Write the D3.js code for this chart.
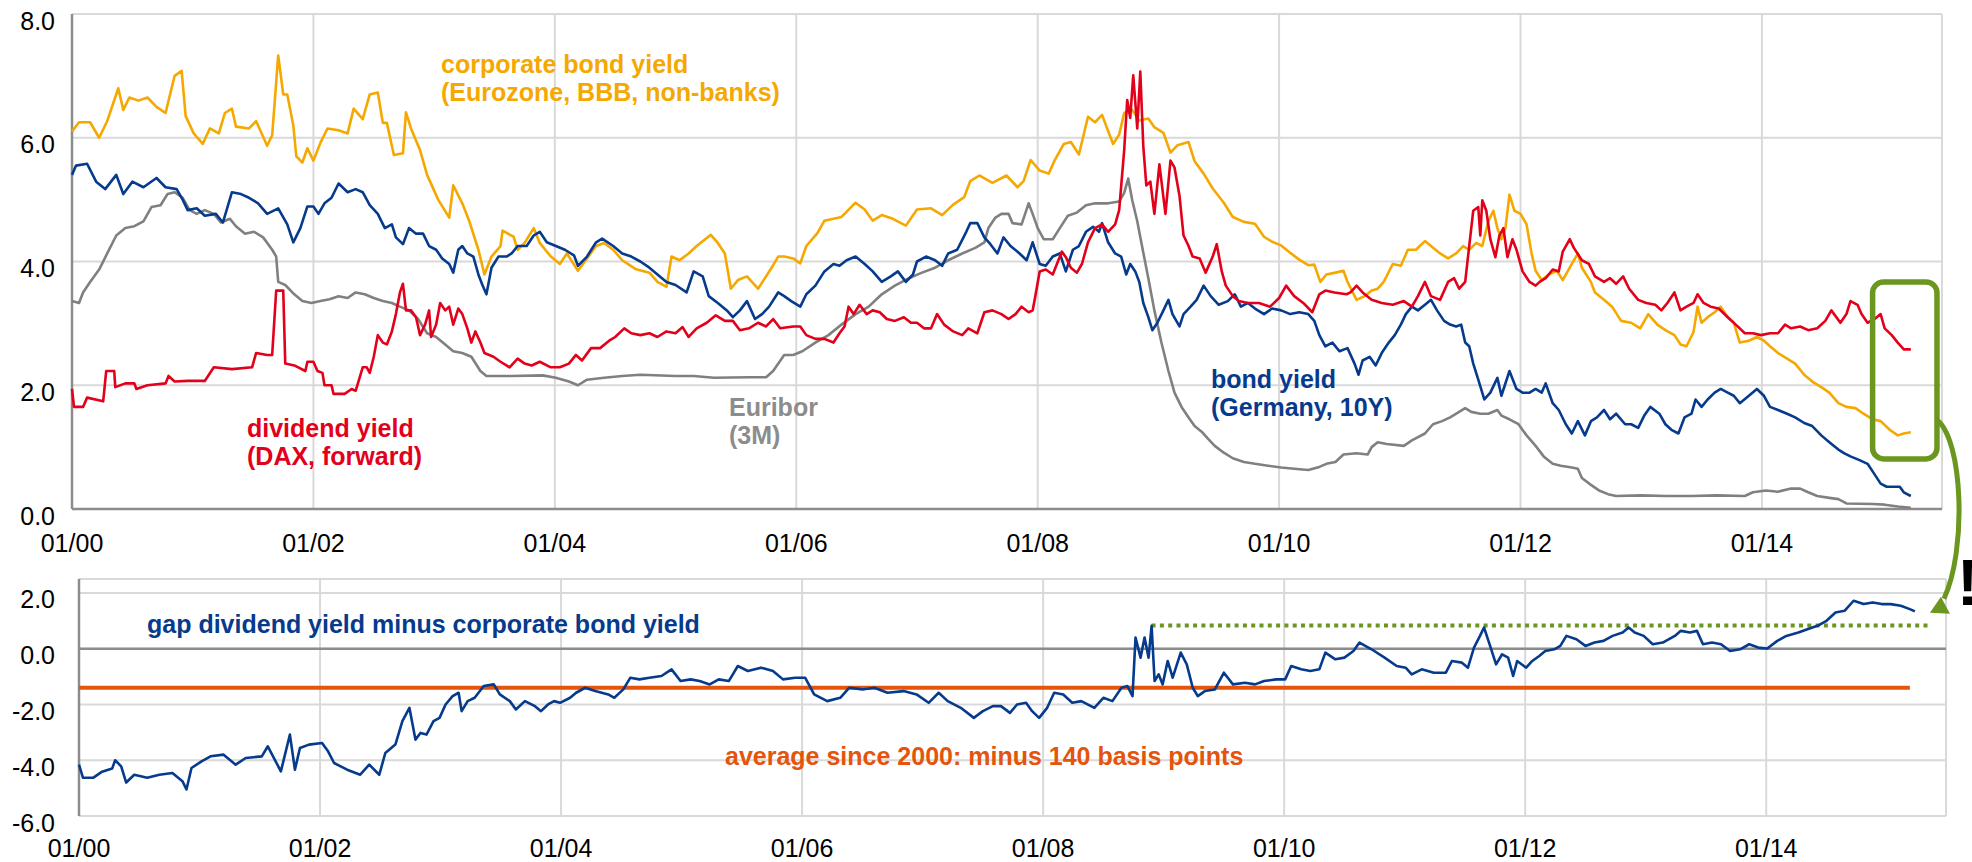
<!DOCTYPE html>
<html><head><meta charset="utf-8">
<script src="https://cdn.jsdelivr.net/npm/d3@7"></script>
<style>
html,body{margin:0;padding:0;background:#fff;}
svg{display:block;font-family:"Liberation Sans",Arial,sans-serif;}
</style></head><body>
<svg id="chart" width="1972" height="862"></svg>
<script>
// ---------- data (month offset since 01/2000, value in %) ----------
const tickMonths = [0,24,48,72,96,120,144,168];
const tickLabels = ["01/00","01/02","01/04","01/06","01/08","01/10","01/12","01/14"];
const topYTicks = [0,2,4,6,8];
const topYLabels = ["0.0","2.0","4.0","6.0","8.0"];
const lowYTicks = [-6,-4,-2,0,2];
const lowYLabels = ["-6.0","-4.0","-2.0","0.0","2.0"];

const corpYield = [[0,6.10],[0.7,6.25],[1.8,6.25],[2.7,6.00],[3.5,6.27],[4.6,6.80],[5.1,6.45],[5.7,6.65],[6.6,6.60],[7.5,6.65],[8.4,6.50],[9.3,6.40],[10.2,7.00],[10.9,7.08],[11.3,6.35],[12.1,6.07],[13.0,5.90],[13.7,6.15],[14.6,6.07],[15.2,6.40],[15.9,6.47],[16.3,6.18],[17.6,6.15],[18.3,6.27],[19.4,5.87],[19.9,6.04],[20.3,6.90],[20.5,7.33],[21.0,6.70],[21.4,6.70],[22.0,6.20],[22.3,5.70],[22.9,5.60],[23.4,5.83],[24.0,5.63],[24.7,5.92],[25.4,6.15],[26.5,6.12],[27.4,6.07],[28.0,6.47],[28.9,6.30],[29.6,6.70],[30.4,6.73],[30.9,6.24],[31.3,6.24],[32.0,5.72],[32.9,5.75],[33.2,6.41],[33.7,6.15],[34.6,5.80],[35.3,5.40],[36.4,5.00],[37.5,4.71],[37.9,5.23],[38.8,4.94],[39.5,4.65],[40.4,4.19],[41.0,3.79],[41.7,4.08],[42.6,4.25],[42.8,4.50],[43.9,4.40],[44.3,4.19],[45.0,4.30],[45.9,4.54],[46.5,4.30],[47.6,4.08],[48.5,3.96],[49.2,4.13],[50.3,3.85],[51.2,4.05],[52.1,4.25],[52.9,4.30],[53.8,4.19],[54.7,4.02],[56.0,3.88],[57.4,3.82],[58.2,3.67],[59.1,3.59],[59.6,4.08],[60.4,4.02],[61.3,4.13],[62.1,4.25],[63.5,4.43],[64.2,4.30],[64.9,4.13],[65.5,3.56],[66.2,3.70],[67.1,3.76],[68.2,3.56],[69.0,3.76],[69.7,3.94],[70.2,4.08],[70.8,4.08],[71.7,4.05],[72.4,3.97],[73.0,4.25],[74.1,4.46],[74.8,4.66],[75.7,4.69],[76.5,4.72],[77.7,4.92],[77.9,4.95],[78.8,4.84],[79.6,4.66],[80.5,4.75],[81.6,4.69],[82.9,4.58],[84.0,4.84],[85.4,4.86],[86.5,4.75],[87.6,4.92],[88.7,5.04],[89.3,5.30],[90.2,5.39],[91.5,5.27],[92.9,5.39],[94.0,5.20],[94.6,5.30],[95.3,5.64],[96.2,5.47],[97.1,5.42],[97.7,5.64],[98.6,5.90],[99.3,5.93],[100.1,5.73],[101.0,6.34],[101.7,6.25],[102.4,6.37],[103.0,6.11],[103.5,5.90],[104.1,6.05],[104.6,6.40],[105.4,6.45],[106.1,6.28],[107.0,6.31],[107.6,6.17],[108.5,6.08],[109.2,5.76],[109.9,5.88],[111.0,5.93],[111.6,5.62],[112.5,5.42],[113.4,5.18],[114.5,4.95],[115.4,4.72],[116.5,4.64],[117.6,4.61],[118.5,4.40],[119.3,4.32],[120.2,4.26],[121.1,4.14],[122.0,4.03],[122.9,3.94],[123.5,3.95],[124.1,3.67],[124.7,3.79],[125.6,3.82],[126.4,3.85],[126.8,3.67],[127.7,3.38],[128.5,3.44],[129.2,3.53],[129.8,3.56],[130.4,3.67],[131.3,3.96],[132.1,3.93],[132.8,4.19],[133.6,4.19],[134.5,4.33],[135.1,4.25],[136.0,4.13],[136.8,4.05],[137.6,4.13],[138.3,4.25],[138.9,4.19],[139.6,4.30],[140.2,4.25],[140.8,4.65],[141.3,4.82],[141.7,4.54],[142.1,4.36],[142.5,4.54],[142.9,5.08],[143.4,4.82],[144.0,4.77],[144.6,4.60],[145.1,4.13],[145.5,3.85],[146.1,3.70],[146.8,3.79],[147.6,3.85],[148.2,3.70],[149.1,3.96],[149.7,4.13],[150.1,3.90],[151.0,3.67],[151.4,3.50],[152.3,3.38],[153.1,3.27],[154.0,3.04],[155.0,3.01],[155.9,2.92],[156.7,3.15],[157.6,2.98],[158.4,2.89],[159.3,2.81],[159.9,2.66],[160.5,2.63],[161.2,2.86],[161.6,3.27],[162.0,3.01],[162.6,3.10],[163.3,3.18],[163.9,3.27],[164.6,3.10],[165.2,3.01],[165.8,2.69],[166.7,2.72],[167.5,2.78],[168.2,2.72],[168.8,2.63],[169.6,2.52],[170.5,2.43],[171.3,2.35],[172.2,2.17],[173.0,2.06],[173.9,1.97],[174.7,1.88],[175.6,1.71],[176.4,1.65],[177.3,1.63],[178.1,1.54],[179.0,1.45],[179.8,1.42],[180.7,1.28],[181.5,1.19],[182.1,1.22],[182.8,1.24]];

const dividendYield = [[0,1.94],[0.2,1.65],[1.1,1.65],[1.5,1.80],[3.1,1.74],[3.4,2.23],[4.2,2.23],[4.3,1.97],[5.3,2.03],[6.2,2.03],[6.4,1.94],[7.5,2.00],[9.3,2.03],[9.6,2.15],[10.2,2.06],[11.5,2.07],[13.2,2.07],[14.1,2.29],[15.9,2.26],[17.9,2.29],[18.3,2.52],[19.4,2.49],[19.9,2.49],[20.3,3.53],[21.0,3.53],[21.2,2.35],[22.1,2.32],[23.2,2.23],[23.4,2.38],[24.0,2.38],[24.4,2.23],[24.9,2.20],[25.1,2.00],[25.8,2.00],[26.0,1.86],[27.1,1.86],[27.8,1.94],[28.2,1.91],[28.9,2.29],[29.3,2.29],[29.6,2.20],[30.0,2.46],[30.4,2.81],[30.9,2.69],[31.3,2.66],[31.8,2.87],[32.2,3.15],[32.6,3.50],[32.9,3.64],[33.2,3.21],[33.7,3.21],[34.2,3.10],[34.6,2.81],[35.1,2.98],[35.5,3.21],[35.7,2.78],[36.2,2.98],[36.6,3.33],[37.1,3.21],[37.5,3.27],[37.9,2.98],[38.4,3.24],[38.8,3.15],[39.3,2.92],[39.7,2.69],[40.1,2.87],[40.6,2.69],[41.0,2.52],[41.9,2.46],[42.6,2.38],[43.5,2.29],[44.3,2.43],[45.0,2.35],[45.7,2.32],[46.5,2.38],[47.6,2.29],[48.5,2.29],[49.4,2.35],[50.1,2.49],[50.7,2.40],[51.6,2.60],[52.5,2.60],[53.4,2.72],[54.0,2.78],[54.9,2.92],[55.6,2.84],[56.5,2.81],[57.4,2.84],[58.2,2.78],[59.1,2.87],[60.0,2.84],[60.7,2.94],[61.3,2.78],[62.1,2.92],[63.1,3.01],[64.0,3.13],[64.9,3.04],[65.7,3.04],[66.4,2.89],[67.3,2.92],[68.2,3.01],[69.0,2.95],[69.7,3.07],[70.4,2.92],[71.7,2.95],[72.4,2.95],[73.0,2.81],[73.9,2.75],[74.8,2.75],[75.7,2.69],[76.3,2.84],[76.8,2.95],[77.2,3.27],[77.7,3.15],[78.3,3.30],[79.0,3.15],[79.6,3.21],[80.3,3.18],[81.0,3.07],[81.8,3.04],[82.7,3.10],[83.4,3.01],[84.0,3.01],[84.7,2.92],[85.4,2.92],[86.0,3.15],[86.7,2.98],[87.6,2.87],[88.5,2.81],[89.1,2.92],[90.0,2.84],[90.7,3.18],[91.5,3.21],[92.4,3.15],[93.1,3.07],[93.8,3.15],[94.4,3.27],[95.1,3.18],[95.5,3.21],[95.7,3.38],[96.2,3.84],[96.8,3.87],[97.5,3.79],[98.4,4.16],[98.8,4.07],[99.3,3.90],[99.9,3.82],[100.4,3.96],[101.0,4.31],[101.7,4.54],[102.4,4.60],[103.0,4.48],[103.7,4.60],[104.1,4.83],[104.6,5.80],[104.9,6.61],[105.2,6.32],[105.5,7.01],[105.9,6.15],[106.2,7.07],[106.5,5.86],[106.8,5.23],[107.2,5.29],[107.6,4.77],[108.1,5.57],[108.7,4.77],[109.2,5.63],[109.6,5.52],[110.1,5.06],[110.5,4.42],[111.0,4.25],[111.4,4.08],[112.1,4.05],[112.7,3.82],[113.4,4.08],[113.8,4.28],[114.3,3.84],[114.7,3.61],[115.4,3.44],[116.0,3.36],[116.9,3.33],[118.0,3.33],[119.1,3.27],[120.0,3.41],[120.7,3.61],[121.5,3.44],[122.4,3.33],[123.3,3.18],[124.0,3.47],[124.6,3.53],[125.5,3.50],[126.7,3.47],[127.1,3.50],[127.7,3.61],[128.3,3.50],[129.2,3.38],[130.2,3.33],[131.3,3.30],[132.4,3.36],[133.2,3.27],[133.8,3.44],[134.5,3.67],[135.1,3.44],[136.0,3.38],[136.8,3.67],[137.4,3.73],[137.9,3.56],[138.5,3.67],[138.9,4.25],[139.3,4.82],[139.8,4.88],[140.0,4.42],[140.2,4.99],[140.6,4.82],[141.0,4.36],[141.5,4.07],[141.9,4.42],[142.3,4.54],[142.7,4.07],[143.2,4.36],[143.6,4.19],[144.2,3.84],[144.9,3.67],[145.5,3.61],[145.9,3.67],[146.5,3.73],[147.2,3.87],[147.8,3.84],[148.2,4.16],[148.9,4.36],[149.3,4.22],[150.1,4.02],[150.8,3.96],[151.4,3.76],[152.3,3.67],[152.9,3.73],[153.5,3.64],[154.2,3.76],[154.8,3.56],[155.7,3.38],[156.5,3.33],[157.4,3.30],[158.0,3.21],[158.6,3.33],[159.3,3.50],[159.9,3.21],[160.5,3.27],[161.2,3.33],[161.6,3.47],[162.2,3.33],[162.9,3.27],[163.7,3.24],[164.6,3.10],[165.4,2.98],[166.3,2.84],[167.1,2.84],[167.9,2.81],[168.8,2.84],[169.6,2.84],[170.3,2.98],[170.9,2.92],[171.8,2.95],[172.6,2.89],[173.5,2.92],[174.3,3.04],[174.9,3.21],[175.8,3.01],[176.4,3.15],[176.8,3.36],[177.5,3.30],[177.9,3.15],[178.5,3.01],[179.2,3.07],[179.8,3.15],[180.2,2.92],[180.9,2.81],[181.5,2.69],[182.1,2.58],[182.8,2.58]];

const bondYield = [[0,5.40],[0.4,5.55],[1.5,5.58],[2.4,5.29],[3.3,5.17],[4.4,5.40],[5.1,5.09],[6.0,5.29],[7.1,5.20],[8.4,5.35],[9.3,5.20],[10.4,5.17],[11.0,5.00],[11.5,4.83],[12.4,4.86],[13.2,4.74],[14.3,4.77],[15.0,4.63],[15.9,5.12],[16.8,5.09],[17.6,5.03],[18.5,4.94],[19.4,4.77],[20.5,4.86],[21.4,4.60],[22.0,4.31],[22.7,4.54],[23.4,4.89],[24.0,4.89],[24.5,4.77],[25.1,4.94],[25.8,5.03],[26.5,5.26],[27.4,5.12],[28.2,5.17],[28.9,5.12],[29.6,4.91],[30.4,4.77],[31.1,4.54],[31.8,4.60],[32.2,4.39],[32.9,4.28],[33.5,4.54],[34.2,4.45],[34.9,4.45],[35.5,4.25],[36.2,4.19],[36.8,4.05],[37.5,3.96],[37.9,3.82],[38.4,4.19],[38.8,4.25],[39.3,4.13],[39.9,4.08],[40.4,3.79],[40.8,3.62],[41.2,3.47],[41.7,3.90],[42.4,4.08],[43.2,4.08],[43.7,4.13],[44.3,4.25],[45.2,4.25],[45.9,4.42],[46.5,4.48],[47.2,4.31],[48.1,4.25],[49.0,4.19],[49.9,4.10],[50.3,3.93],[51.2,4.08],[52.1,4.31],[52.7,4.37],[53.8,4.25],[54.7,4.13],[55.6,4.08],[56.5,4.00],[57.4,3.90],[58.2,3.79],[59.1,3.67],[60.0,3.62],[61.1,3.50],[61.8,3.84],[62.7,3.76],[63.3,3.44],[64.2,3.33],[65.1,3.21],[65.7,3.10],[66.4,3.21],[67.1,3.36],[67.9,3.07],[68.6,3.15],[69.3,3.27],[70.2,3.50],[70.8,3.44],[71.5,3.36],[72.4,3.27],[73.0,3.47],[73.9,3.61],[74.8,3.84],[75.7,3.96],[76.3,3.93],[77.0,4.02],[77.9,4.08],[78.8,3.96],[79.6,3.84],[80.5,3.67],[81.4,3.76],[82.1,3.84],[82.9,3.67],[83.6,3.79],[84.0,4.00],[84.9,4.08],[85.8,4.02],[86.5,3.93],[87.1,4.13],[88.0,4.19],[88.9,4.48],[89.3,4.62],[90.0,4.62],[90.7,4.39],[91.3,4.28],[92.0,4.13],[92.6,4.39],[93.3,4.25],[94.2,4.13],[94.9,4.02],[95.5,4.31],[96.2,3.96],[96.8,3.93],[97.5,4.08],[98.2,4.13],[98.8,3.84],[99.5,4.19],[100.1,4.25],[100.8,4.48],[101.5,4.56],[102.1,4.48],[102.4,4.62],[103.0,4.31],[103.7,4.13],[104.3,4.08],[104.8,3.79],[105.2,3.96],[105.7,3.84],[106.1,3.67],[106.5,3.33],[107.0,3.10],[107.4,2.89],[107.9,3.01],[108.5,3.21],[109.0,3.38],[109.4,3.15],[110.1,2.95],[110.5,3.15],[111.2,3.27],[111.8,3.38],[112.5,3.61],[113.2,3.44],[114.0,3.30],[114.9,3.36],[115.6,3.47],[116.2,3.27],[116.9,3.33],[117.6,3.24],[118.5,3.15],[119.3,3.24],[120.2,3.21],[121.1,3.15],[122.0,3.18],[122.9,3.15],[123.5,3.04],[124.0,2.81],[124.6,2.63],[125.3,2.69],[126.0,2.55],[126.8,2.60],[127.5,2.35],[127.9,2.17],[128.3,2.40],[129.0,2.46],[129.6,2.32],[130.2,2.52],[130.9,2.69],[131.5,2.81],[132.1,2.98],[132.6,3.15],[133.2,3.27],[133.8,3.21],[134.5,3.30],[135.1,3.38],[135.7,3.21],[136.4,3.04],[137.0,2.98],[137.6,2.95],[138.1,2.98],[138.5,2.69],[138.9,2.63],[139.3,2.35],[139.8,2.09],[140.4,1.77],[141.0,1.88],[141.7,2.12],[142.1,1.83],[142.9,2.23],[143.6,1.94],[144.2,1.88],[144.9,1.88],[145.5,1.94],[146.1,1.88],[146.5,2.03],[147.2,1.71],[147.8,1.60],[148.5,1.37],[149.1,1.22],[149.7,1.42],[150.4,1.19],[151.0,1.42],[151.6,1.48],[152.3,1.60],[152.9,1.45],[153.5,1.54],[154.4,1.37],[155.0,1.37],[155.7,1.31],[156.3,1.51],[156.9,1.65],[157.8,1.54],[158.4,1.37],[159.0,1.28],[159.7,1.22],[160.3,1.48],[161.0,1.54],[161.4,1.77],[162.0,1.65],[162.6,1.77],[163.3,1.88],[163.9,1.94],[164.6,1.88],[165.2,1.83],[165.8,1.71],[166.7,1.83],[167.5,1.94],[168.2,1.83],[168.8,1.65],[169.6,1.60],[170.5,1.54],[171.3,1.48],[172.2,1.39],[173.0,1.34],[173.9,1.19],[174.7,1.08],[175.6,0.96],[176.2,0.90],[176.8,0.85],[177.7,0.79],[178.5,0.73],[179.2,0.56],[179.8,0.41],[180.4,0.36],[181.1,0.36],[181.7,0.36],[182.1,0.27],[182.8,0.21]];

const euribor3M = [[0,3.36],[0.7,3.33],[1.1,3.50],[1.8,3.67],[2.7,3.87],[3.5,4.13],[4.4,4.42],[5.3,4.54],[6.2,4.57],[7.1,4.65],[7.9,4.88],[8.8,4.91],[9.5,5.09],[10.2,5.12],[11.0,5.03],[11.7,4.83],[12.4,4.77],[13.2,4.83],[14.1,4.77],[14.8,4.63],[15.7,4.69],[16.3,4.57],[17.2,4.45],[18.1,4.48],[19.0,4.39],[19.9,4.19],[20.3,4.08],[20.5,3.67],[21.2,3.62],[22.1,3.47],[22.9,3.36],[23.8,3.33],[24.7,3.36],[25.6,3.39],[26.5,3.44],[27.4,3.41],[28.2,3.50],[29.1,3.47],[30.0,3.41],[30.9,3.36],[31.8,3.33],[32.6,3.27],[33.5,3.21],[34.4,3.07],[35.3,2.84],[36.2,2.78],[37.1,2.66],[37.9,2.55],[38.8,2.52],[39.7,2.46],[40.6,2.23],[41.2,2.15],[43.7,2.15],[46.8,2.16],[48.1,2.12],[49.4,2.06],[50.3,2.00],[51.2,2.09],[52.9,2.12],[54.7,2.15],[56.5,2.17],[60.0,2.15],[61.8,2.15],[63.8,2.12],[67.3,2.13],[69.0,2.13],[69.7,2.23],[70.8,2.49],[71.7,2.49],[72.6,2.55],[73.9,2.69],[75.2,2.81],[76.5,2.98],[77.9,3.15],[79.2,3.27],[80.5,3.47],[81.8,3.61],[83.2,3.73],[84.5,3.82],[85.8,3.90],[87.1,4.02],[88.5,4.13],[89.8,4.22],[90.7,4.31],[91.1,4.54],[91.8,4.71],[92.4,4.77],[93.1,4.77],[93.5,4.62],[94.4,4.60],[95.1,4.94],[95.5,4.77],[96.0,4.54],[96.6,4.36],[97.5,4.36],[98.2,4.54],[99.0,4.74],[99.9,4.79],[100.8,4.91],[101.7,4.94],[103.0,4.94],[104.1,4.97],[104.6,5.11],[105.0,5.34],[105.4,4.99],[105.9,4.65],[106.3,4.31],[107.0,3.73],[107.6,3.21],[108.3,2.69],[109.0,2.23],[109.6,1.88],[110.3,1.65],[111.0,1.48],[111.6,1.34],[112.3,1.25],[112.9,1.14],[113.6,1.02],[114.5,0.91],[115.4,0.82],[116.5,0.76],[117.6,0.73],[118.9,0.70],[120.2,0.67],[121.5,0.65],[122.9,0.63],[124.0,0.68],[124.7,0.73],[125.6,0.76],[126.4,0.88],[127.7,0.90],[128.8,0.88],[129.2,1.00],[129.8,1.08],[130.7,1.05],[132.4,1.02],[133.2,1.11],[134.5,1.22],[135.3,1.37],[136.2,1.42],[137.0,1.48],[137.9,1.57],[138.5,1.63],[139.1,1.57],[140.0,1.54],[140.8,1.54],[141.7,1.60],[142.1,1.51],[142.9,1.45],[143.8,1.37],[144.6,1.19],[145.5,1.02],[146.3,0.85],[147.2,0.73],[148.0,0.70],[149.1,0.67],[149.7,0.65],[150.1,0.50],[151.0,0.39],[151.8,0.30],[152.7,0.24],[153.5,0.21],[156.0,0.22],[158.5,0.21],[161.0,0.21],[163.5,0.22],[166.3,0.21],[167.1,0.27],[168.4,0.30],[169.6,0.28],[170.9,0.33],[171.8,0.33],[172.6,0.27],[173.5,0.21],[174.7,0.18],[175.6,0.16],[176.4,0.09],[179.0,0.08],[180.2,0.07],[181.5,0.04],[182.8,0.02]];

const yieldGap = [[0,-4.16],[0.4,-4.63],[1.4,-4.63],[2.3,-4.41],[3.3,-4.30],[3.6,-4.00],[4.2,-4.22],[4.7,-4.80],[5.5,-4.52],[6.8,-4.63],[8.0,-4.52],[9.3,-4.46],[10.3,-4.75],[10.7,-5.05],[11.2,-4.28],[12.2,-4.04],[13.1,-3.86],[14.4,-3.80],[15.6,-4.16],[16.6,-3.92],[18.2,-3.86],[18.8,-3.50],[20.1,-4.40],[21.0,-3.08],[21.5,-4.34],[22.0,-3.56],[22.9,-3.44],[24.2,-3.38],[24.8,-3.68],[25.4,-4.10],[26.7,-4.34],[28.0,-4.52],[28.9,-4.16],[29.9,-4.52],[30.5,-3.74],[31.5,-3.44],[32.2,-2.60],[32.9,-2.12],[33.5,-3.26],[34.0,-3.02],[34.6,-3.08],[35.3,-2.60],[35.9,-2.48],[36.5,-2.00],[37.2,-1.70],[37.8,-1.58],[38.1,-2.24],[38.7,-1.88],[39.4,-1.76],[40.3,-1.34],[41.3,-1.28],[41.9,-1.64],[42.9,-1.88],[43.5,-2.18],[44.4,-1.88],[45.4,-2.06],[46.0,-2.24],[46.7,-2.00],[47.3,-1.88],[47.9,-1.94],[48.9,-1.76],[49.5,-1.58],[50.4,-1.40],[51.4,-1.52],[52.7,-1.64],[53.3,-1.76],[54.2,-1.46],[54.9,-1.04],[55.8,-1.10],[56.8,-1.04],[58.0,-0.98],[59.0,-0.74],[59.9,-1.16],[60.9,-1.10],[61.8,-1.16],[62.8,-1.28],[63.7,-1.10],[64.7,-1.16],[65.6,-0.62],[66.6,-0.80],[67.9,-0.68],[69.1,-0.80],[70.1,-1.10],[71.3,-1.04],[72.3,-1.04],[73.2,-1.64],[74.5,-1.88],[75.8,-1.76],[76.7,-1.40],[78.0,-1.46],[79.2,-1.40],[80.5,-1.58],[82.1,-1.52],[83.4,-1.64],[84.6,-1.94],[85.6,-1.58],[86.5,-1.88],[87.8,-2.12],[89.1,-2.48],[90.0,-2.24],[91.0,-2.06],[91.8,-2.06],[92.7,-2.30],[93.4,-2.00],[94.3,-1.94],[94.9,-2.24],[95.6,-2.48],[96.4,-2.12],[97.1,-1.58],[98.0,-1.64],[98.9,-1.94],[99.8,-1.88],[101.1,-2.12],[102.0,-1.76],[102.9,-1.88],[103.8,-1.40],[104.4,-1.34],[104.9,-1.70],[105.2,0.40],[105.7,-0.32],[106.1,0.40],[106.5,-0.32],[106.8,0.82],[107.1,-1.16],[107.5,-0.92],[107.9,-1.28],[108.4,-0.44],[108.9,-1.04],[109.7,-0.14],[110.3,-0.56],[110.9,-1.40],[111.4,-1.70],[112.1,-1.52],[113.1,-1.46],[114.0,-0.86],[114.9,-1.28],[116.1,-1.22],[117.1,-1.28],[118.0,-1.16],[119.2,-1.10],[120.1,-1.10],[120.7,-0.62],[121.7,-0.74],[122.6,-0.80],[123.5,-0.74],[124.1,-0.14],[125.1,-0.38],[126.0,-0.32],[126.9,-0.08],[127.5,0.22],[128.7,-0.02],[130.0,-0.32],[131.2,-0.62],[132.1,-0.68],[132.7,-0.92],[133.7,-0.74],[134.9,-0.86],[136.1,-0.86],[136.7,-0.44],[137.7,-0.50],[138.3,-0.68],[138.9,0.04],[139.5,0.46],[139.9,0.76],[140.4,0.22],[141.1,-0.56],[141.7,-0.20],[142.3,-0.32],[142.8,-0.98],[143.2,-0.44],[144.1,-0.68],[144.7,-0.44],[145.4,-0.26],[146.0,-0.08],[146.9,-0.02],[147.5,0.10],[148.1,0.46],[149.1,0.34],[150.0,0.10],[150.9,0.22],[151.8,0.28],[152.7,0.46],[153.7,0.58],[154.3,0.76],[154.9,0.58],[155.8,0.46],[156.7,0.16],[157.7,0.22],[158.9,0.46],[159.5,0.64],[160.4,0.58],[161.1,0.64],[161.7,0.16],[162.6,0.22],[163.5,0.16],[164.4,-0.08],[165.4,-0.02],[166.3,0.16],[167.2,0.04],[168.1,0.01],[169.1,0.28],[170.0,0.46],[171.2,0.58],[172.1,0.70],[173.1,0.82],[174.0,1.00],[174.9,1.30],[175.8,1.36],[176.7,1.72],[177.7,1.60],[178.6,1.66],[179.5,1.60],[180.4,1.60],[181.4,1.54],[182.3,1.42],[182.8,1.34]];

const averageGap = -1.4;            // average since 2000
const averageSpan = [0, 182.3];     // months
const gapLevel2008 = 0.83;          // 2008 peak of the gap
const gapLevelSpan = [106.8, 184.3];
const highlightMonths = [179.0, 185.4];
const highlightValues = [0.81, 3.67];

// ---------- layout ----------
const monthDomain = [0, 185.9];
const svg = d3.select("#chart");
const GRID = "#d9d9d9", AXIS = "#8c8c8c";
const C_CORP = "#f5a800", C_DIV = "#e2001a", C_BOND = "#063a8c", C_EUR = "#808080",
      C_AVG = "#e4540c", C_GREEN = "#6b961f";

const xTop = d3.scaleLinear().domain(monthDomain).range([72, 1942]);
const yTop = d3.scaleLinear().domain([0, 8]).range([509, 14]);
const xLow = d3.scaleLinear().domain(monthDomain).range([79, 1946]);
const yLow = d3.scaleLinear().domain([-6, 2.5]).range([816, 579]);

function panel(x, y, yTicks, yLabels, xLabelDy, zeroDark) {
  const g = svg.append("g");
  const [x0, x1] = x.range(), [yb, yt] = y.range();
  g.selectAll(null).data(yTicks.filter(v => v !== y.domain()[0])).enter().append("line")
    .attr("x1", x0).attr("x2", x1).attr("y1", d => y(d)).attr("y2", d => y(d))
    .attr("stroke", GRID).attr("stroke-width", 2);
  g.append("line").attr("x1", x0).attr("x2", x1).attr("y1", yt).attr("y2", yt)
    .attr("stroke", GRID).attr("stroke-width", 2);
  g.selectAll(null).data(tickMonths.slice(1)).enter().append("line")
    .attr("x1", d => x(d)).attr("x2", d => x(d)).attr("y1", yt).attr("y2", yb)
    .attr("stroke", GRID).attr("stroke-width", 2);
  g.append("line").attr("x1", x1).attr("x2", x1).attr("y1", yt).attr("y2", yb)
    .attr("stroke", GRID).attr("stroke-width", 2);
  if (zeroDark) {
    g.append("line").attr("x1", x0).attr("x2", x1).attr("y1", y(0)).attr("y2", y(0))
      .attr("stroke", AXIS).attr("stroke-width", 2.5);
    g.append("line").attr("x1", x0).attr("x2", x1).attr("y1", yb).attr("y2", yb)
      .attr("stroke", GRID).attr("stroke-width", 2);
  } else {
    g.append("line").attr("x1", x0).attr("x2", x1).attr("y1", yb).attr("y2", yb)
      .attr("stroke", AXIS).attr("stroke-width", 2.5);
  }
  g.append("line").attr("x1", x0).attr("x2", x0).attr("y1", yt).attr("y2", yb)
    .attr("stroke", AXIS).attr("stroke-width", 2.5);
  g.selectAll(null).data(yTicks).enter().append("text")
    .attr("x", 55).attr("y", d => y(d) + 15.5).attr("text-anchor", "end")
    .attr("font-size", 25).attr("fill", "#000")
    .text((d, i) => yLabels[i]);
  g.selectAll(null).data(tickMonths).enter().append("text")
    .attr("x", d => x(d)).attr("y", yb + xLabelDy).attr("text-anchor", "middle")
    .attr("font-size", 25).attr("fill", "#000")
    .text((d, i) => tickLabels[i]);
}

panel(xTop, yTop, topYTicks, topYLabels, 43, false);
panel(xLow, yLow, lowYTicks, lowYLabels, 41, true);

// ---------- top series ----------
const lineTop = d3.line().x(d => xTop(d[0])).y(d => yTop(d[1]));
[[euribor3M, C_EUR], [corpYield, C_CORP], [bondYield, C_BOND], [dividendYield, C_DIV]]
  .forEach(([data, col]) => {
    svg.append("path").datum(data).attr("d", lineTop).attr("fill", "none")
      .attr("stroke", col).attr("stroke-width", 2.6).attr("stroke-linejoin", "round");
  });

// ---------- lower series ----------
svg.append("line")
  .attr("x1", xLow(averageSpan[0])).attr("x2", xLow(averageSpan[1]))
  .attr("y1", yLow(averageGap)).attr("y2", yLow(averageGap))
  .attr("stroke", C_AVG).attr("stroke-width", 4);
svg.append("line")
  .attr("x1", xLow(gapLevelSpan[0])).attr("x2", xLow(gapLevelSpan[1]))
  .attr("y1", yLow(gapLevel2008)).attr("y2", yLow(gapLevel2008))
  .attr("stroke", C_GREEN).attr("stroke-width", 4).attr("stroke-dasharray", "4,4.3");
const lineLow = d3.line().x(d => xLow(d[0])).y(d => yLow(d[1]));
svg.append("path").datum(yieldGap).attr("d", lineLow).attr("fill", "none")
  .attr("stroke", C_BOND).attr("stroke-width", 2.6).attr("stroke-linejoin", "round");

// ---------- annotations ----------
function label(lines, x, y, col, lh) {
  const t = svg.append("text").attr("font-size", 25).attr("font-weight", "bold").attr("fill", col);
  lines.forEach((s, i) => t.append("tspan").attr("x", x).attr("y", y + i * lh).text(s));
}
label(["corporate bond yield", "(Eurozone, BBB, non-banks)"], 441, 73, C_CORP, 28);
label(["dividend yield", "(DAX, forward)"], 247, 437, C_DIV, 28);
label(["Euribor", "(3M)"], 729, 416, "#8c8c8c", 28);
label(["bond yield", "(Germany, 10Y)"], 1211, 388, C_BOND, 28);
label(["gap dividend yield minus corporate bond yield"], 147, 633, C_BOND, 0);
label(["average since 2000: minus 140 basis points"], 725, 765, C_AVG, 0);

// highlight box
const bx0 = xTop(highlightMonths[0]), bx1 = xTop(highlightMonths[1]);
const by0 = yTop(highlightValues[1]), by1 = yTop(highlightValues[0]);
svg.append("rect").attr("x", bx0).attr("y", by0).attr("width", bx1 - bx0).attr("height", by1 - by0)
  .attr("rx", 11).attr("ry", 11).attr("fill", "none").attr("stroke", C_GREEN).attr("stroke-width", 5.5);

// arrow from box to lower panel
const sx = bx1, sy = yTop(1.44);
const tx = xLow(gapLevelSpan[1]), ty = yLow(1.29);
svg.append("path")
  .attr("d", `M${sx},${sy} C${sx + 26},${sy + 20} ${sx + 30},${sy + 130} ${tx + 14},${ty - 14}`)
  .attr("fill", "none").attr("stroke", C_GREEN).attr("stroke-width", 5);
svg.append("path")
  .attr("d", `M${tx},${ty} L${tx + 11},${ty - 16} L${tx + 20},${ty + 1} Z`)
  .attr("fill", C_GREEN);
svg.append("text").attr("x", 1957).attr("y", 605).attr("font-size", 64)
  .attr("font-weight", "bold").attr("fill", "#000").text("!");
</script>
</body></html>
